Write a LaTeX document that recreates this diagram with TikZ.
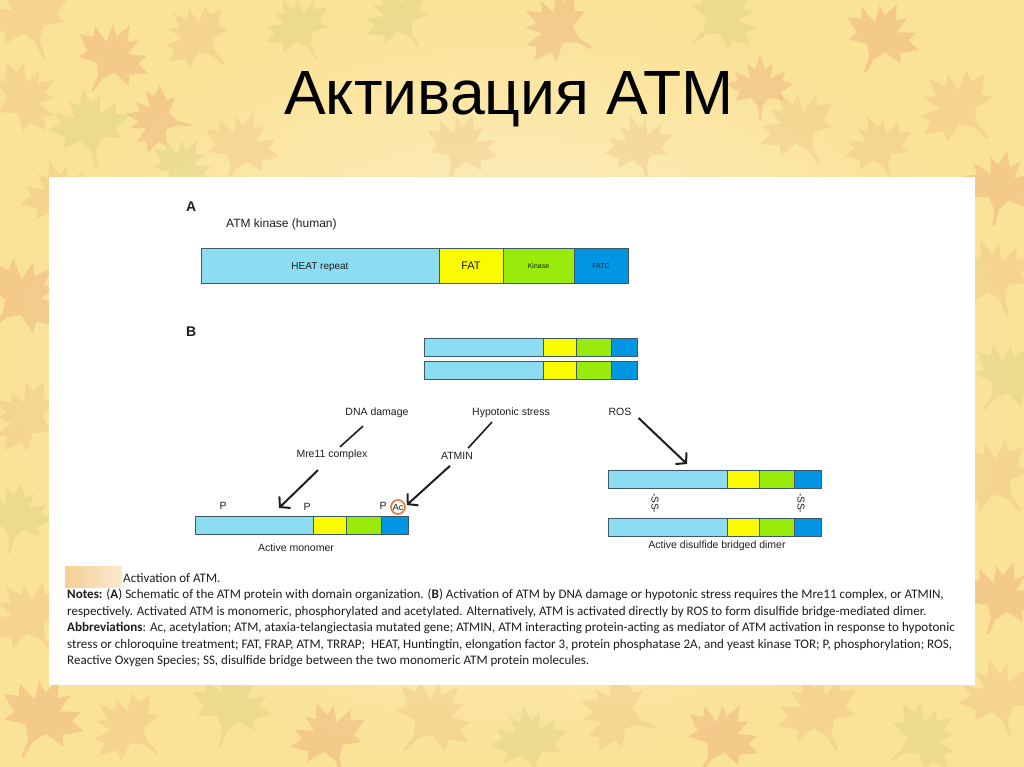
\documentclass[tikz,border=0pt]{standalone}
\usepackage{fontspec}
\setmainfont{Liberation Sans}
\newfontfamily\capfont{Carlito}
\usetikzlibrary{arrows.meta,shapes.geometric}
\definecolor{heatc}{RGB}{140,220,242}
\definecolor{fatcol}{RGB}{250,250,0}
\definecolor{kinc}{RGB}{152,235,10}
\definecolor{fatcc}{RGB}{0,150,228}
\definecolor{borderc}{RGB}{60,88,108}
\definecolor{bgin}{RGB}{253,244,212}
\definecolor{bgout}{RGB}{250,226,150}
\definecolor{leafA}{RGB}{228,170,110}
\definecolor{leafB}{RGB}{222,120,95}
\definecolor{leafC}{RGB}{190,195,110}
\definecolor{tanc}{RGB}{244,220,175}
\definecolor{acring}{RGB}{230,120,50}
\definecolor{ink}{RGB}{30,30,30}
\newcommand\atmbar[8]{%
 \node[seg,fill=heatc,minimum width={(#4-#2)*1pt},minimum height={#8pt}] (#1h) at (#2,#3) {};
 \node[seg,fill=fatcol,minimum width={(#5-#4)*1pt},minimum height={#8pt}] (#1f) at (#4,#3) {};
 \node[seg,fill=kinc,minimum width={(#6-#5)*1pt},minimum height={#8pt}] (#1k) at (#5,#3) {};
 \node[seg,fill=fatcc,minimum width={(#7-#6)*1pt},minimum height={#8pt}] (#1c) at (#6,#3) {};
}
\tikzset{
 seg/.style={draw=borderc, line width=0.7pt, inner sep=0pt, outer sep=0pt, anchor=north west},
 lab/.style={font=\fontsize{10.5}{12}\selectfont, text=ink, inner sep=1pt},
 thinline/.style={line width=1.6pt, draw=ink},
 bigarrow/.style={line width=2pt, draw=ink, -{Straight Barb[length=7pt,width=16pt]}},
 captxt/.style={font=\capfont\fontsize{13.05}{15}\selectfont, text=ink, anchor=base west, inner sep=0pt},
 domtxt/.style={text=ink, anchor=base, inner sep=0pt},
 leaf/.pic={\fill[pic actions] (0,-1)--(0.15,-0.6)--(0.38,-0.78)--(0.3,-0.35)--(0.75,-0.55)--(0.65,-0.28)--(0.98,-0.18)--(0.6,0.08)--(0.72,0.32)--(0.25,0.22)--(0.06,0.5)--(0.03,0.9)--(-0.03,0.9)--(-0.06,0.5)--(-0.25,0.22)--(-0.72,0.32)--(-0.6,0.08)--(-0.98,-0.18)--(-0.65,-0.28)--(-0.75,-0.55)--(-0.3,-0.35)--(-0.38,-0.78)--(-0.15,-0.6)--cycle;},
}
\begin{document}
\begin{tikzpicture}[x=1pt,y=-1pt]
\useasboundingbox (0,0) rectangle (1024,767);
% background
\shade[inner color=bgin, outer color=bgout] (0,0) rectangle (1024,767);
\foreach \x/\y/\r/\s/\c in {30/20/20/45/leafA, 110/60/-30/40/leafB, 200/40/45/38/leafA, 90/130/10/42/leafC, 20/100/-60/40/leafA, 160/120/80/35/leafB, 240/150/-20/40/leafA, 300/30/30/36/leafC, 60/200/15/40/leafA, 20/300/-45/45/leafB, 30/420/60/40/leafA, 15/520/-10/38/leafC, 30/620/35/42/leafA, 40/720/-25/45/leafB, 130/730/50/40/leafA, 230/710/-15/42/leafC, 330/740/20/40/leafB, 430/720/-40/44/leafA, 530/745/10/40/leafC, 620/715/70/42/leafA, 720/740/-30/40/leafB, 820/715/25/44/leafA, 920/740/-55/40/leafC, 1000/700/15/42/leafA, 1000/600/-20/40/leafB, 995/480/40/44/leafA, 1005/380/-35/40/leafC, 995/280/20/42/leafA, 1000/190/-10/40/leafB, 960/110/45/44/leafA, 880/40/-25/40/leafB, 800/130/30/42/leafA, 720/20/-50/40/leafC, 640/150/15/36/leafA, 560/30/60/40/leafB, 460/150/-20/38/leafA, 400/20/35/36/leafC, 760/90/0/34/leafB, 180/170/-30/34/leafC, 880/150/20/36/leafA}
  \pic[rotate=\r, scale=\s, fill=\c, fill opacity=0.22] at (\x,\y) {leaf};
% title
\node[font=\fontsize{62.5}{66}\selectfont, text=black, anchor=base, inner sep=0pt] (title) at (509,115) {Активация АТМ};
% panel
\node[fill=white, minimum width=926pt, minimum height=508pt, anchor=north west, inner sep=0pt] (panel) at (49,177) {};
% panel A
\node[font=\bfseries\fontsize{14}{16}\selectfont, text=ink, anchor=west, inner sep=0pt] (labA) at (186,207) {A};
\node[font=\fontsize{12}{14}\selectfont, text=ink, anchor=west, inner sep=0pt] (kin) at (226,224) {ATM kinase (human)};
\atmbar{A}{201}{248}{439}{503}{574}{628}{35}
\node[domtxt, font=\fontsize{10}{12}\selectfont] (tHeat) at ([shift={(0,3.6)}]Ah.center) {HEAT repeat};
\node[domtxt, font=\fontsize{11}{12}\selectfont] (tFat) at ([shift={(0,4)}]Af.center) {FAT};
\node[domtxt, font=\fontsize{7}{8}\selectfont] (tKin) at ([shift={(0,2.5)}]Ak.center) {Kinase};
\node[domtxt, font=\fontsize{7}{8}\selectfont] (tFatc) at ([shift={(0,2.5)}]Ac.center) {FATC};
% panel B
\node[font=\bfseries\fontsize{14}{16}\selectfont, text=ink, anchor=west, inner sep=0pt] (labB) at (186,332) {B};
\atmbar{D}{424}{338}{543}{576}{611}{637}{18}
\atmbar{E}{424}{361}{543}{576}{611}{637}{18}
\node[lab] (dna) at (377,413) {DNA damage};
\node[lab] (hypo) at (511,413) {Hypotonic stress};
\node[lab] (ros) at (620,412) {ROS};
\node[lab] (mre) at (332,455) {Mre11 complex};
\node[lab] (atmin) at (457,456) {ATMIN};
% monomer
\atmbar{M}{195}{516}{313}{346}{381}{408}{18}
\node[lab] (p1) at (223,506) {P};
\node[lab] (p2) at (307,507) {P};
\node[lab] (p3) at (383,506) {P};
\node[font=\fontsize{9}{10}\selectfont, text=ink, circle, draw=acring, line width=1.6pt, inner sep=0.5pt, minimum size=14pt] (ac) at (398,507) {Ac};
\node[lab] (mono) at (296,548) {Active monomer};
% dimer
\atmbar{R}{608}{470}{727}{759}{794}{821}{18}
\atmbar{S}{608}{518}{727}{759}{794}{821}{18}
\node[lab, font=\fontsize{10}{12}\selectfont, rotate=-90] (ss1) at (655,503) {-SS-};
\node[lab, font=\fontsize{10}{12}\selectfont, rotate=-90] (ss2) at (801,503) {-SS-};
\node[lab] (dimer) at (717,546) {Active disulfide bridged dimer};
% connectors
\draw[thinline] ([shift={(-14,7)}]dna.south) -- ([shift={(8,-2)}]mre.north);
\draw[thinline] ([shift={(-19,3)}]hypo.south) -- ([shift={(11,-3)}]atmin.north);
\draw[bigarrow] ([shift={(-14,9)}]mre.south) -- ([shift={(25,-8)}]Mh.north);
\draw[bigarrow] ([shift={(-7,5)}]atmin.south) -- ([shift={(1,-2)}]ac.east);
\draw[bigarrow] ([shift={(6,6)}]ros.east) -- ([shift={(19.5,-6)}]Rh.north);
% caption
\shade[left color=tanc!85!orange, right color=tanc!60!white] (65,566) rectangle (122,587);
\node[captxt] (c0) at (123,582) {Activation of ATM.};
\node[captxt] (c1) at (67,598.5) {\textbf{Notes:} (\textbf{A}) Schematic of the ATM protein with domain organization. (\textbf{B}) Activation of ATM by DNA damage or hypotonic stress requires the Mre11 complex, or ATMIN,};
\node[captxt] (c2) at (67,615) {respectively. Activated ATM is monomeric, phosphorylated and acetylated. Alternatively, ATM is activated directly by ROS to form disulfide bridge-mediated dimer.};
\node[captxt] (c3) at (67,631.5) {\textbf{Abbreviations}: Ac, acetylation; ATM, ataxia-telangiectasia mutated gene; ATMIN, ATM interacting protein-acting as mediator of ATM activation in response to hypotonic};
\node[captxt] (c4) at (67,648) {stress or chloroquine treatment; FAT, FRAP, ATM, TRRAP;\ \ HEAT, Huntingtin, elongation factor 3, protein phosphatase 2A, and yeast kinase TOR; P, phosphorylation; ROS,};
\node[captxt] (c5) at (67,664.5) {Reactive Oxygen Species; SS, disulfide bridge between the two monomeric ATM protein molecules.};
\end{tikzpicture}
\end{document}
